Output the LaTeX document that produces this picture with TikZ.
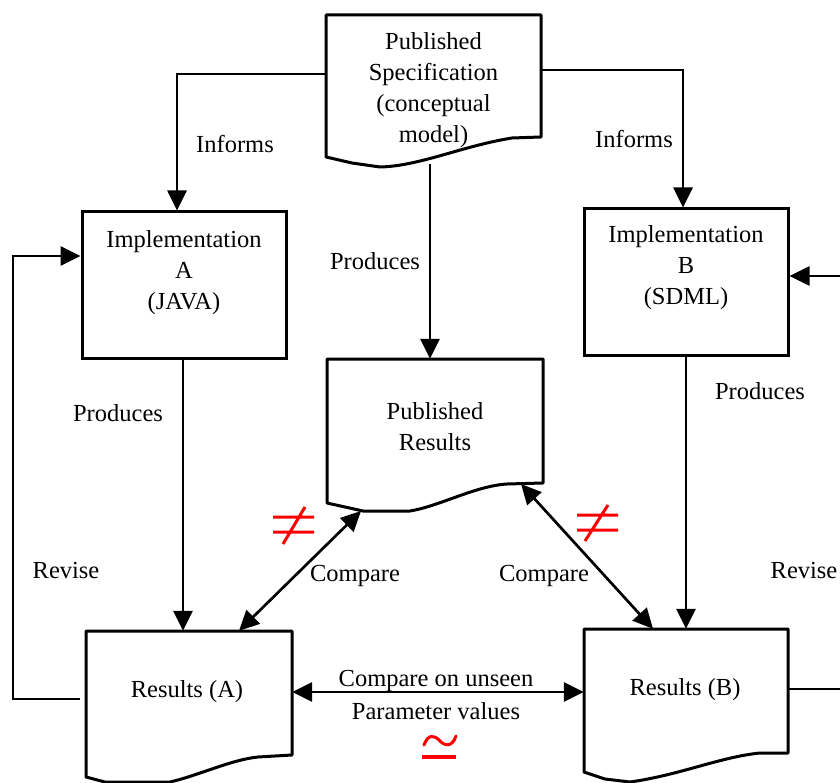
\documentclass[tikz,border=0pt]{standalone}
\usepackage{fontspec}
\setmainfont{Liberation Serif}
\usetikzlibrary{arrows.meta}
\tikzset{
  box/.style={draw, line width=3pt, inner sep=0pt},
  ghost/.style={inner sep=0pt},
  doc/.style={line width=3pt, line join=round},
  txt/.style={font=\fontsize{24.5}{31}\selectfont, align=center, inner sep=0pt, yshift=-3pt},
  conn/.style={line width=2.7pt},
  arr/.style={conn, -{Triangle[length=20pt,width=19pt]}},
  darr/.style={conn, {Triangle[length=20pt,width=19pt]}-{Triangle[length=20pt,width=19pt]}},
  redmark/.style={draw=red, line width=3pt},
}
\begin{document}
\begin{tikzpicture}[x=1pt,y=-1pt]
\clip (0,0) rectangle (840,783);
\fill[white] (0,0) rectangle (840,783);

% ---- boxes ----
\node[box, minimum width=204, minimum height=146] (implA) at (184,285) {};
\node[txt] (implAtxt) at (184,270) {Implementation\\A\\(JAVA)};
\node[box, minimum width=204, minimum height=146] (implB) at (686,282) {};
\node[txt] (implBtxt) at (686,265) {Implementation\\B\\(SDML)};

% published specification (document shape)
\node[ghost, minimum width=215, minimum height=152] (spec) at (433.5,91) {};
\draw[doc] (326,15) -- (326,157) -- (352,163) -- (380,167)
  .. controls (420,166) and (462,146) .. (512,138) -- (541,137) -- (541,15) -- cycle;
\node[txt] (spectxt) at (433.5,87) {Published\\Specification\\(conceptual\\model)};

% published results
\node[ghost, minimum width=216, minimum height=153] (pres) at (435,435.5) {};
\draw[doc] (327,359) -- (327,503) -- (363,511) -- (410,511)
  .. controls (440,506) and (475,486) .. (507,484) -- (543,483) -- (543,359) -- cycle;
\node[txt] (prestxt) at (435,424) {Published\\Results};

% results A
\node[ghost, minimum width=206, minimum height=152] (resA) at (189,707) {};
\draw[doc] (86,631) -- (86,777) -- (105,782) -- (170,782)
  .. controls (200,775) and (230,760) .. (258,757) -- (292,755) -- (292,631) -- cycle;
\node[txt] (resAtxt) at (187,689) {Results (A)};

% results B
\node[ghost, minimum width=204, minimum height=153] (resB) at (686,705.5) {};
\draw[doc] (584,629) -- (584,772) -- (605,779) -- (630,782)
  .. controls (680,775) and (720,757) .. (760,753) -- (788,753) -- (788,629) -- cycle;
\node[txt] (resBtxt) at (685,687) {Results (B)};

% ---- connectors ----
\draw[arr] (spec.west |- 0,74) -| (implA.north -| 177,0);
\draw[arr] (spec.east |- 0,70) -| (implB.north -| 683,0);
\coordinate (specOut) at (430,164);
\draw[arr] (specOut) -- (pres.north -| 430,0);
\draw[arr] (implA.south -| 183,0) -- (resA.north -| 183,0);
\draw[arr] (implB.south) -- (resB.north -| 686,0);

\coordinate (revA) at (80,699);
\coordinate (revAc) at (13,699);
\draw[arr] (revA) -- (revAc) |- (implA.west |- 0,256);

\coordinate (revBout) at (850,689);
\draw[conn] (resB.east |- 0,689) -- (revBout);
\coordinate (revBin) at (850,276);
\draw[arr] (revBin) -- (implB.east |- 0,276);

\coordinate (presBL) at (361,511);
\coordinate (presBR) at (521,484);
\draw[darr] (resA.north -| 239,0) -- (presBL);
\draw[darr] (presBR) -- (resB.north -| 653,0);
\draw[darr] (resA.east |- 0,692) -- (resB.west |- 0,692);

% ---- labels ----
\node[txt] (l1) at (235,141) {Informs};
\node[txt] (l2) at (634,136) {Informs};
\node[txt] (l3) at (375,258) {Produces};
\node[txt] (l4) at (118,410) {Produces};
\node[txt] (l5) at (760,388) {Produces};
\node[txt] (l6) at (66,568) {Revise};
\node[txt] (l7) at (804,568) {Revise};
\node[txt] (l8) at (355,573) {Compare};
\node[txt] (l9) at (544,573) {Compare};
\node[txt] (l10) at (436,678) {Compare on unseen};
\node[txt] (l11) at (436,708) {Parameter values};

% ---- red annotations ----
\draw[redmark] (273,517) -- (314,517) (273,532) -- (314,532) (283,544) -- (305,507);
\draw[redmark] (577,515) -- (618,515) (577,530) -- (618,530) (585,541) -- (608,505);
\draw[redmark, line cap=round] (424,745) .. controls (428,734) and (434,735) .. (439,740)
  .. controls (444,746) and (452,748) .. (456,736);
\draw[redmark, line width=4pt] (422,757) -- (456,757);
\end{tikzpicture}
\end{document}
